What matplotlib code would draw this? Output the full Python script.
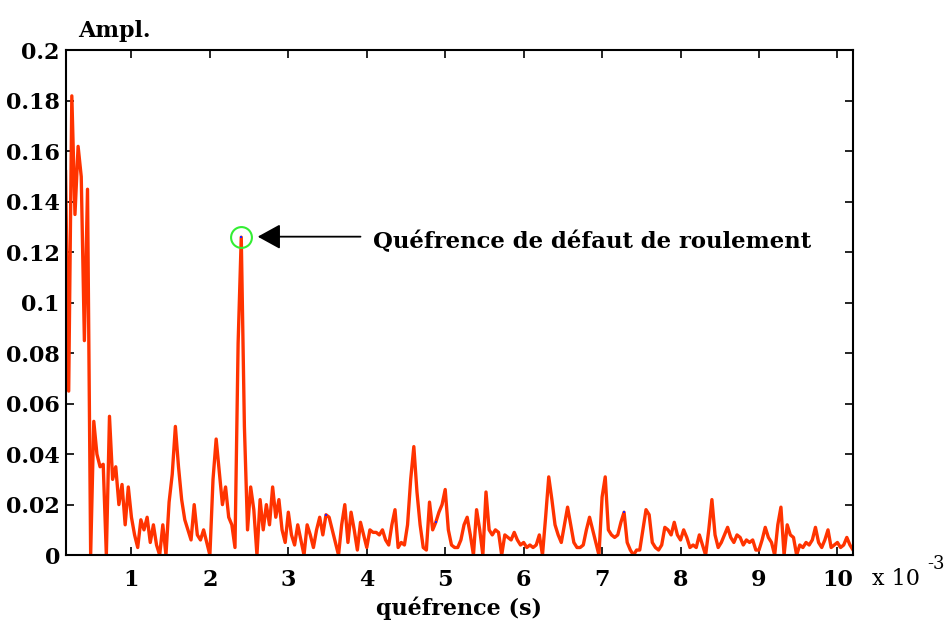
import numpy as np
import matplotlib
matplotlib.use("Agg")
import matplotlib.pyplot as plt

# cepstre (amplitude) echantillonne tous les 0.04 ms a partir de 0.16 ms
q0 = 0.16
dq = 0.04
ampl = [
    0.152, 0.065, 0.182, 0.135, 0.162, 0.150, 0.085, 0.145, 0.000, 0.053,
    0.040, 0.035, 0.036, 0.000, 0.055, 0.030, 0.035, 0.020, 0.028, 0.012,
    0.027, 0.015,
    0.008, 0.003, 0.014, 0.010, 0.015, 0.005, 0.012, 0.004, 0.000, 0.012,
    0.000, 0.021, 0.032, 0.051, 0.035, 0.022, 0.014, 0.010, 0.006, 0.020,
    0.008, 0.006, 0.010, 0.005, 0.000, 0.030, 0.046, 0.033, 0.020, 0.027,
    0.015, 0.012, 0.003, 0.084, 0.126,
    0.051, 0.010, 0.027, 0.018, 0.000, 0.022, 0.010, 0.020, 0.012, 0.027,
    0.015, 0.022, 0.010, 0.005, 0.017, 0.008, 0.004, 0.012, 0.006, 0.000,
    0.012, 0.008, 0.003, 0.010, 0.015, 0.008, 0.016,
    0.015, 0.010, 0.005, 0.000, 0.012, 0.020, 0.005, 0.017, 0.010, 0.002,
    0.013, 0.008, 0.003, 0.010, 0.009, 0.009, 0.008, 0.010, 0.006, 0.004,
    0.012, 0.018, 0.003, 0.005, 0.004, 0.012, 0.030, 0.043, 0.025, 0.012,
    0.003, 0.002, 0.021, 0.010, 0.013, 0.017, 0.020, 0.026, 0.010, 0.004,
    0.003, 0.003, 0.006, 0.012, 0.015,
    0.008, 0.000, 0.018, 0.010, 0.000, 0.025, 0.010, 0.008, 0.010, 0.009,
    0.000, 0.008, 0.007, 0.006, 0.009, 0.006, 0.004, 0.005, 0.003, 0.004,
    0.003, 0.004, 0.008, 0.000, 0.015, 0.031, 0.022, 0.012, 0.008, 0.005,
    0.012, 0.019, 0.012, 0.005, 0.003, 0.003, 0.004, 0.010, 0.015, 0.010,
    0.005, 0.000, 0.023, 0.031, 0.010, 0.008, 0.007, 0.008, 0.013, 0.017,
    0.005, 0.002, 0.000, 0.002, 0.002, 0.010, 0.018, 0.016, 0.005, 0.003,
    0.002, 0.004, 0.011, 0.010, 0.008, 0.013, 0.008, 0.006, 0.010, 0.007,
    0.003, 0.004, 0.003, 0.008, 0.004, 0.000, 0.010, 0.022, 0.008, 0.003,
    0.005, 0.008, 0.011,
    0.007, 0.005, 0.008, 0.007, 0.004, 0.006, 0.005, 0.006, 0.002, 0.002,
    0.006, 0.011, 0.007, 0.005, 0.000, 0.012, 0.019, 0.000, 0.012, 0.008,
    0.007, 0.000, 0.004, 0.003, 0.005, 0.004, 0.006, 0.011, 0.005, 0.003,
    0.006, 0.010, 0.003, 0.004, 0.005, 0.003, 0.004, 0.007, 0.004, 0.002,
]

# petits points bleus (marqueurs)
dots_x = [2.40, 3.48, 4.88, 7.28]
dots_y = [0.126, 0.016, 0.013, 0.017]

# pic du defaut de roulement
peak_x = 2.40
peak_y = 0.126

xticks = [1, 2, 3, 4, 5, 6, 7, 8, 9, 10]
yticks = [0, 0.02, 0.04, 0.06, 0.08, 0.1, 0.12, 0.14, 0.16, 0.18, 0.2]
ytick_labels = ['0', '0.02', '0.04', '0.06', '0.08', '0.1', '0.12',
                '0.14', '0.16', '0.18', '0.2']

plt.rcParams['font.family'] = 'DejaVu Serif'

q = q0 + dq * np.arange(len(ampl))

fig = plt.figure(figsize=(9.5, 6.23), dpi=100)
ax = fig.add_axes([0.069, 0.109, 0.829, 0.810])

ax.plot(q, ampl, color='#ff3300', lw=2.4)
ax.plot(dots_x, dots_y, 's', color='#2020ff', ms=1.6, mew=0)
ax.plot([peak_x], [peak_y], 'o', ms=15, mfc='none', mec='#33ee33', mew=1.5)

ax.annotate('', xy=(2.61, 0.1262), xytext=(3.92, 0.1262),
            arrowprops=dict(arrowstyle='-|>,head_length=1.0,head_width=0.55',
                            color='black', lw=1.3, mutation_scale=14,
                            shrinkA=0, shrinkB=0))
ax.text(4.08, 0.1242, 'Quéfrence de défaut de roulement', fontsize=16.4,
        fontweight='bold', va='center', ha='left')

ax.set_xlim(0.16, 10.2)
ax.set_ylim(0, 0.2)
ax.set_xticks(xticks)
ax.set_xticklabels([str(t) for t in xticks])
ax.set_yticks(yticks)
ax.set_yticklabels(ytick_labels)
ax.tick_params(direction='in', length=6, width=1.2, top=True, right=True,
               labelsize=16, pad=10)
for lab in ax.get_xticklabels() + ax.get_yticklabels():
    lab.set_fontweight('bold')
ax.tick_params(axis='y', pad=4)
for s in ax.spines.values():
    s.set_linewidth(1.5)

ax.set_xlabel('quéfrence (s)', fontsize=16, fontweight='bold', labelpad=4)
fig.text(0.082, 0.950, 'Ampl.', fontsize=16, fontweight='bold',
         ha='left', va='center')
fig.text(0.918, 0.071, 'x 10', fontsize=16, ha='left', va='center')
fig.text(0.976, 0.094, '-3', fontsize=13, ha='left', va='center')

fig.savefig('out.png', dpi=100)
